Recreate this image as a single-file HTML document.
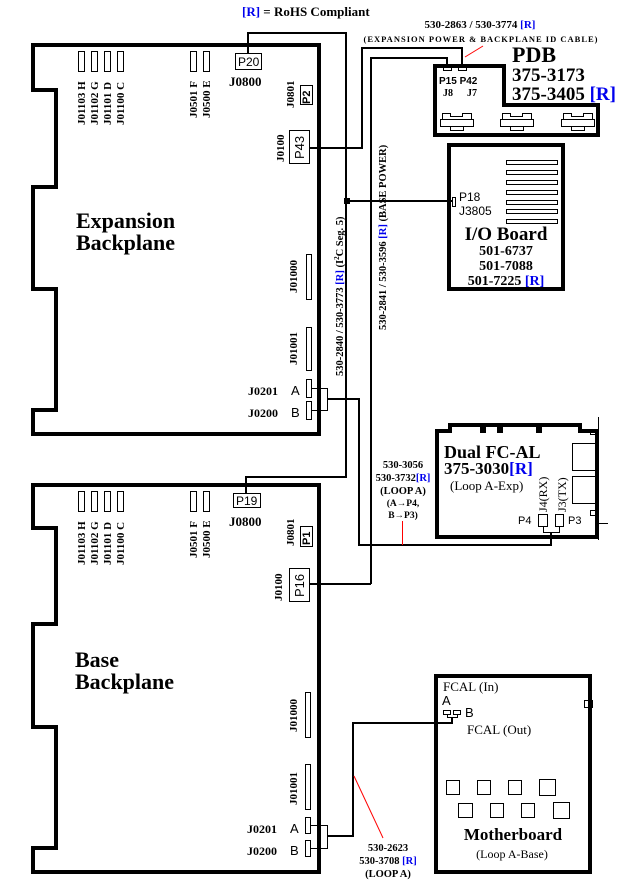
<!DOCTYPE html>
<html><head><meta charset="utf-8"><style>
html,body{margin:0;padding:0;background:#fff;}
svg{display:block;}
.s{font-family:"Liberation Serif",serif;font-weight:bold;fill:#000;}
.n{font-weight:normal;}
.a{font-family:"Liberation Sans",sans-serif;fill:#000;}
.b{fill:#0000ee;}
</style></head><body>
<svg width="628" height="880" viewBox="0 0 628 880" xmlns="http://www.w3.org/2000/svg">
<g fill="none" stroke="#000" shape-rendering="crispEdges">
<path d="M33,45 H319 V434 H33 V410 H56 V289 H33 V187 H56 V90 H33 Z" stroke-width="4"/>
<path d="M33,485 H319 V872 H33 V848 H56 V727 H33 V624 H56 V528 H33 Z" stroke-width="4"/>
<path d="M435,66 H504 V105 H598 V135 H435 Z" stroke-width="4"/>
<rect x="449" y="145" width="114" height="144" stroke-width="4"/>
<path d="M437,537 V431 H450 V425 H580 V431 H597 V537 Z" stroke-width="4"/>
<rect x="436" y="676" width="154" height="196" stroke-width="4"/>
<g stroke-width="1">
<rect x="78.5" y="51.5" width="6" height="20"/><rect x="91.5" y="51.5" width="6" height="20"/><rect x="104.5" y="51.5" width="6" height="20"/><rect x="117.5" y="51.5" width="6" height="20"/>
<rect x="190.5" y="51.5" width="6" height="20"/><rect x="203.5" y="51.5" width="6" height="20"/>
<rect x="235.5" y="53.5" width="26" height="16"/>
<rect x="300.5" y="85.5" width="12" height="19"/>
<rect x="289.5" y="130.5" width="20" height="33"/>
<rect x="306.5" y="254.5" width="5" height="45"/>
<rect x="306.5" y="327.5" width="5" height="43"/>
<rect x="306.5" y="379.5" width="5" height="18"/>
<rect x="306.5" y="401.5" width="5" height="18"/>
<path d="M311.5,388.5 H327.5 V410.5 H311.5"/>
<rect x="78.5" y="491.5" width="6" height="20"/><rect x="91.5" y="491.5" width="6" height="20"/><rect x="104.5" y="491.5" width="6" height="20"/><rect x="117.5" y="491.5" width="6" height="20"/>
<rect x="190.5" y="491.5" width="6" height="20"/><rect x="203.5" y="491.5" width="6" height="20"/>
<rect x="233.5" y="493.5" width="27" height="14"/>
<rect x="300.5" y="526.5" width="12" height="20"/>
<rect x="289.5" y="568.5" width="20" height="33"/>
<rect x="305.5" y="692.5" width="5" height="45"/>
<rect x="305.5" y="764.5" width="5" height="45"/>
<rect x="305.5" y="817.5" width="5" height="16"/>
<rect x="305.5" y="840.5" width="5" height="16"/>
<path d="M310.5,825.5 H327.5 V848.5 H310.5"/>
<rect x="443.5" y="66.5" width="8" height="4"/><rect x="458.5" y="66.5" width="8" height="4"/>
<path d="M442.5,119.5 V113.5 H450.5 V116.5 H462.5 V113.5 H471.5 V119.5 M440.5,119.5 H473.5 V126.5 H440.5 Z M450.5,126.5 V130.5 H463.5 V126.5"/>
<path d="M502.5,119.5 V113.5 H510.5 V116.5 H522.5 V113.5 H531.5 V119.5 M500.5,119.5 H533.5 V126.5 H500.5 Z M510.5,126.5 V130.5 H523.5 V126.5"/>
<path d="M563.5,119.5 V113.5 H571.5 V116.5 H583.5 V113.5 H592.5 V119.5 M561.5,119.5 H594.5 V126.5 H561.5 Z M571.5,126.5 V130.5 H584.5 V126.5"/>
<rect x="506.5" y="160.5" width="51" height="4"/><rect x="506.5" y="170.5" width="51" height="4"/><rect x="506.5" y="180.5" width="51" height="4"/><rect x="506.5" y="190.5" width="51" height="4"/><rect x="506.5" y="200.5" width="51" height="4"/><rect x="506.5" y="209.5" width="51" height="4"/><rect x="506.5" y="219.5" width="51" height="4"/>
<rect x="452.5" y="197.5" width="3" height="9"/>
<rect x="572.5" y="443.5" width="26" height="27"/><rect x="572.5" y="476.5" width="26" height="27"/>
<rect x="590.5" y="429.5" width="5" height="5"/><rect x="590.5" y="510.5" width="5" height="5"/>
<path d="M598.5,417 V540 M597,523.5 H608"/>
<rect x="538.5" y="514.5" width="9" height="12"/><rect x="555.5" y="514.5" width="8" height="12"/>
<path d="M543.5,527 V532.5 H559.5 V527"/>
<rect x="584.5" y="700.5" width="8" height="7"/>
<rect x="443.5" y="710.5" width="7" height="4"/><rect x="453.5" y="710.5" width="7" height="4"/>
<path d="M447.5,714 V717.5 H457.5 V714"/>
<rect x="446.5" y="780.5" width="13" height="14"/><rect x="477.5" y="780.5" width="13" height="14"/><rect x="508.5" y="780.5" width="13" height="14"/><rect x="539.5" y="779.5" width="16" height="16"/>
<rect x="458.5" y="803.5" width="14" height="14"/><rect x="490.5" y="803.5" width="13" height="14"/><rect x="521.5" y="803.5" width="13" height="14"/><rect x="553.5" y="802.5" width="16" height="16"/>
</g>
<g stroke-width="2">
<path d="M248,53 V33 H346 V477 H246 V493"/>
<path d="M309,148 H362 V48 H462 V66"/>
<path d="M371,584 H310 M371,584 V58 H447 V66"/>
<path d="M347,201 H452"/>
<path d="M327,399 H359 V545 H551 V532"/>
<path d="M327,836 H353 V723 H452 V717"/>
</g>
</g>
<g stroke="#f00" stroke-width="1" fill="none">
<path d="M465,57 L483,46"/><path d="M402.5,521 V545"/><path d="M354,776 L383,838"/>
</g>
<g fill="#000">
<rect x="480" y="425" width="6" height="8"/><rect x="497" y="425" width="6" height="8"/><rect x="536" y="425" width="6" height="8"/>
<rect x="344" y="198" width="6" height="6"/>
</g>
<text x="242" y="16" class="s" font-size="13"><tspan class="b">[R]</tspan> = RoHS Compliant</text>
<text x="480" y="28" class="s" font-size="11" text-anchor="middle">530-2863 / 530-3774 <tspan class="b">[R]</tspan></text>
<text x="481" y="42" class="s" font-size="8.5" text-anchor="middle" letter-spacing="1">(EXPANSION POWER &amp; BACKPLANE ID CABLE)</text>
<text x="512" y="62" class="s" font-size="22">PDB</text>
<text x="512" y="81" class="s" font-size="19">375-3173</text>
<text x="512" y="100" class="s" font-size="19">375-3405 <tspan class="b">[R]</tspan></text>
<text x="439" y="84" class="a" font-size="10" font-weight="bold">P15 P42</text>
<text x="443" y="96" class="s" font-size="10">J8</text><text x="467" y="96" class="s" font-size="10">J7</text>
<text x="459" y="201" class="a" font-size="12">P18</text>
<text x="459" y="215" class="a" font-size="12">J3805</text>
<text x="506" y="240" class="s" font-size="19" text-anchor="middle">I/O Board</text>
<text x="506" y="255" class="s" font-size="14" text-anchor="middle">501-6737</text>
<text x="506" y="270" class="s" font-size="14" text-anchor="middle">501-7088</text>
<text x="506" y="285" class="s" font-size="14" text-anchor="middle">501-7225 <tspan class="b">[R]</tspan></text>
<text transform="translate(343,376) rotate(-90)" class="s" font-size="10.5">530-2840 / 530-3773 <tspan class="b">[R]</tspan> (I<tspan font-size="7" dy="-4">2</tspan><tspan dy="4">C Seg. 5)</tspan></text>
<text transform="translate(386,330) rotate(-90)" class="s" font-size="10.5">530-2841 / 530-3596 <tspan class="b">[R]</tspan> (BASE POWER)</text>
<g class="s" font-size="11">
<text transform="translate(85,125) rotate(-90)">J01103 H</text>
<text transform="translate(98,125) rotate(-90)">J01102 G</text>
<text transform="translate(111,125) rotate(-90)">J01101 D</text>
<text transform="translate(124,125) rotate(-90)">J01100 C</text>
<text transform="translate(197,118) rotate(-90)">J0501 F</text>
<text transform="translate(210,118) rotate(-90)">J0500 E</text>
<text transform="translate(294,108) rotate(-90)">J0801</text>
<text transform="translate(284,162) rotate(-90)">J0100</text>
<text transform="translate(297,293) rotate(-90)">J01000</text>
<text transform="translate(297,365) rotate(-90)">J01001</text>
<text transform="translate(85,565) rotate(-90)">J01103 H</text>
<text transform="translate(98,565) rotate(-90)">J01102 G</text>
<text transform="translate(111,565) rotate(-90)">J01101 D</text>
<text transform="translate(124,565) rotate(-90)">J01100 C</text>
<text transform="translate(197,558) rotate(-90)">J0501 F</text>
<text transform="translate(210,558) rotate(-90)">J0500 E</text>
<text transform="translate(294,546) rotate(-90)">J0801</text>
<text transform="translate(282,601) rotate(-90)">J0100</text>
<text transform="translate(297,732) rotate(-90)">J01000</text>
<text transform="translate(297,805) rotate(-90)">J01001</text>
</g>
<g class="a" font-size="11" font-weight="bold">
<text transform="translate(310,104) rotate(-90)">P2</text>
<text transform="translate(304,159) rotate(-90)" font-size="13" font-weight="normal">P43</text>
<text transform="translate(310,545) rotate(-90)">P1</text>
<text transform="translate(304,597) rotate(-90)" font-size="13" font-weight="normal">P16</text>
</g>
<text x="238" y="66" class="a" font-size="12">P20</text>
<text x="236" y="505" class="a" font-size="12">P19</text>
<text x="229" y="86" class="s" font-size="13">J0800</text>
<text x="229" y="526" class="s" font-size="13">J0800</text>
<text x="76" y="228" class="s" font-size="22">Expansion</text>
<text x="76" y="250" class="s" font-size="22">Backplane</text>
<text x="75" y="667" class="s" font-size="22">Base</text>
<text x="75" y="689" class="s" font-size="22">Backplane</text>
<text x="248" y="395" class="s" font-size="12">J0201</text><text x="291" y="395" class="a" font-size="13">A</text>
<text x="248" y="417" class="s" font-size="12">J0200</text><text x="291" y="417" class="a" font-size="13">B</text>
<text x="247" y="833" class="s" font-size="12">J0201</text><text x="290" y="833" class="a" font-size="13">A</text>
<text x="247" y="855" class="s" font-size="12">J0200</text><text x="290" y="855" class="a" font-size="13">B</text>
<text x="444" y="458" class="s" font-size="18">Dual FC-AL</text>
<text x="444" y="474" class="s" font-size="17">375-3030<tspan class="b">[R]</tspan></text>
<text x="450" y="490" class="s n" font-size="13">(Loop A-Exp)</text>
<text transform="translate(547,512) rotate(-90)" class="s n" font-size="12">J4(RX)</text>
<text transform="translate(566,512) rotate(-90)" class="s n" font-size="12">J3(TX)</text>
<text x="518" y="524" class="a" font-size="11">P4</text>
<text x="568" y="524" class="a" font-size="11">P3</text>
<g class="s" font-size="10.5" text-anchor="middle">
<text x="403" y="468">530-3056</text>
<text x="403" y="481">530-3732<tspan class="b">[R]</tspan></text>
<text x="403" y="494">(LOOP A)</text>
<text x="403" y="506" font-size="9.5">(A→P4,</text>
<text x="403" y="518" font-size="9.5">B→P3)</text>
<text x="388" y="851">530-2623</text>
<text x="388" y="864">530-3708 <tspan class="b">[R]</tspan></text>
<text x="388" y="877">(LOOP A)</text>
</g>
<text x="443" y="691" class="s n" font-size="13">FCAL (In)</text>
<text x="442" y="705" class="a" font-size="13">A</text>
<text x="465" y="717" class="a" font-size="13">B</text>
<text x="467" y="734" class="s n" font-size="13">FCAL (Out)</text>
<text x="513" y="840" class="s" font-size="17" text-anchor="middle">Motherboard</text>
<text x="512" y="858" class="s n" font-size="12" text-anchor="middle">(Loop A-Base)</text>
</svg>
</body></html>
